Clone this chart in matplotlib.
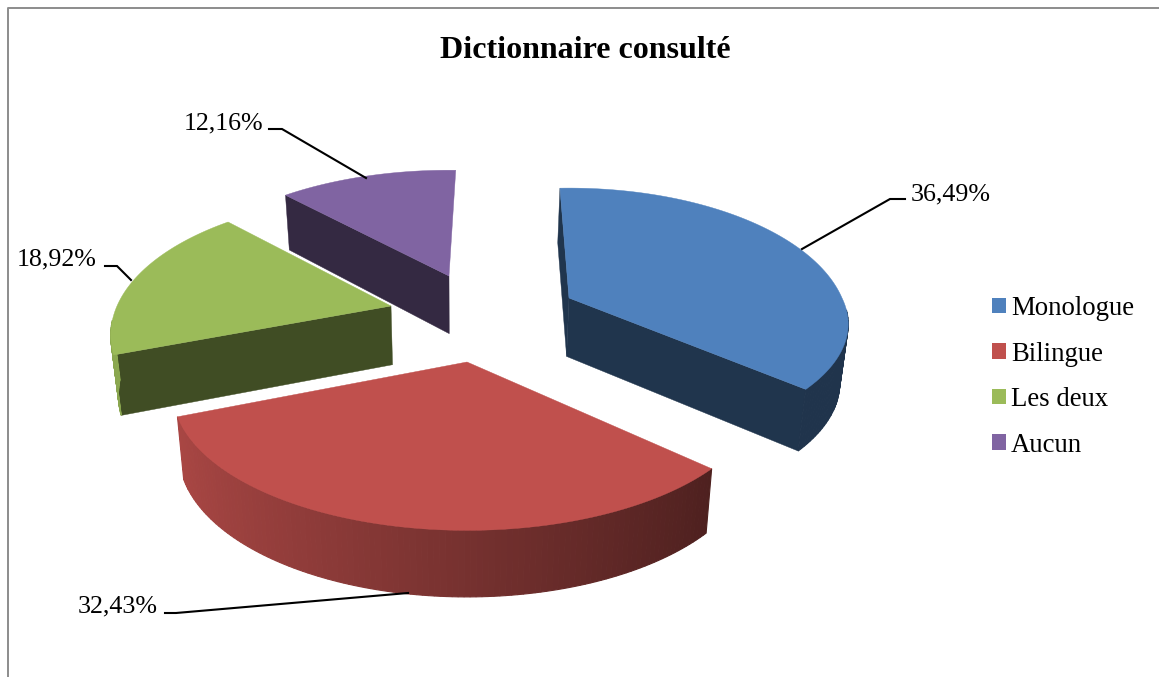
import numpy as np
import matplotlib
matplotlib.use("Agg")
import matplotlib.pyplot as plt
from matplotlib.colors import to_rgb
from matplotlib.patches import Patch, Polygon

# --- data ---
title = "Dictionnaire consulté"
categories = ["Monologue", "Bilingue", "Les deux", "Aucun"]
values = [36.49, 32.43, 18.92, 12.16]
labels = ["36,49%", "32,43%", "18,92%", "12,16%"]
colors = ["#4f81bd", "#c0504d", "#9bbb59", "#8064a2"]

# --- layout (pixels of the picture) ---
W, H = 1159, 677
START = -4.0
K = 0.21
VANISH_X = 460
apex = [(569, 298), (467, 362), (391, 306), (449, 276)]
radius_x = [273, 288, 274, 275]
radius_back = [133, 133, 133, 128]
radius_front = [118, 133, 133, 128]
shift_start = [1.7, 6.0, 5.9, 4.5]
shift_end = [4.4, 3.6, 4.5, 5.7]
visible_faces = [(0, -1), (), (0,), (0,)]
draw_order = [3, 2, 0, 1]
label_pos = [(911, 194), (78, 606), (17, 259), (184, 123)]
leaders = [[(905, 199), (890, 199), (802, 249)],
           [(165, 613), (176, 613), (408, 593)],
           [(105, 266), (117, 266), (131, 280)],
           [(269, 129), (282, 129), (366, 178)]]


def project(i, deg):
    t = np.radians(deg)
    X, Y = np.sin(t), np.cos(t)
    f = 1 + K * Y
    ry = np.where(Y > 0, radius_back[i], radius_front[i])
    return apex[i][0] + radius_x[i] * X / f, apex[i][1] - ry * Y / f


def extrude(x, y):
    x, y = np.asarray(x, float), np.asarray(y, float)
    return x + (VANISH_X - x) * 0.022, y + 48 + 0.035 * y


def shade(color, factor):
    return tuple(c * factor for c in to_rgb(color))


fig = plt.figure(figsize=(W / 100, H / 100), dpi=100)
ax = fig.add_axes([0, 0, 1, 1])
ax.set_xlim(0, W)
ax.set_ylim(H, 0)
ax.axis("off")
plt.rcParams["font.family"] = ["Liberation Serif", "DejaVu Sans"]

# chart frame: only the top and the left sides show
ax.plot([8.3, 8.3, W], [H, 8.3, 8.3], color="#8c8c8c", lw=1.4, clip_on=False)

edges = START + np.concatenate([[0], np.cumsum(values)]) * 3.6
for i in draw_order:
    a0, a1 = edges[i] + shift_start[i], edges[i + 1] + shift_end[i]
    angles = np.linspace(a0, a1, 120)
    rx, ry = project(i, angles)
    c = colors[i]
    cx, cy = apex[i]
    dark = shade(c, 0.41)
    # radial faces that can be seen
    for k in visible_faces[i]:
        qx, qy = extrude([cx, rx[k]], [cy, ry[k]])
        ax.add_patch(Polygon([(cx, cy), (rx[k], ry[k]), (qx[1], qy[1]), (qx[0], qy[0])],
                             closed=True, fc=dark, ec=dark, lw=0.3))
    # outer rim, shaded from left to right; the back of the rim stays hidden
    bx, by = extrude(rx, ry)
    for j in range(len(angles) - 1):
        mid = np.radians((angles[j] + angles[j + 1]) / 2)
        if np.cos(mid) > -0.1:
            continue
        factor = np.interp(np.sin(mid), [-1.0, 0.75], [0.9, 0.40])
        col = shade(c, factor)
        ax.add_patch(Polygon([(rx[j], ry[j]), (rx[j + 1], ry[j + 1]),
                              (bx[j + 1], by[j + 1]), (bx[j], by[j])],
                             closed=True, fc=col, ec=col, lw=0.8))
    # top face
    ax.fill(np.r_[cx, rx], np.r_[cy, ry], fc=c, ec=c, lw=0.3)

# leaders and data labels
for text, pos, line in zip(labels, label_pos, leaders):
    xs, ys = zip(*line)
    ax.plot(xs, ys, color="black", lw=1.5, solid_joinstyle="miter")
    ax.text(pos[0], pos[1], text, fontsize=18.7, ha="left", va="center", color="black")

ax.text(585, 51, title, fontsize=23, fontweight="bold", ha="center", va="center", color="black")

handles = [Patch(fc=c, ec="none") for c in colors]
ax.legend(handles, categories, loc="upper left", bbox_to_anchor=(992 / W, 1 - 296 / H),
          bbox_transform=fig.transFigure, frameon=False, fontsize=19.3, borderpad=0,
          borderaxespad=0, handlelength=0.53, handleheight=0.53, handletextpad=0.17,
          labelspacing=0.765)

fig.savefig("out.png", dpi=100)
